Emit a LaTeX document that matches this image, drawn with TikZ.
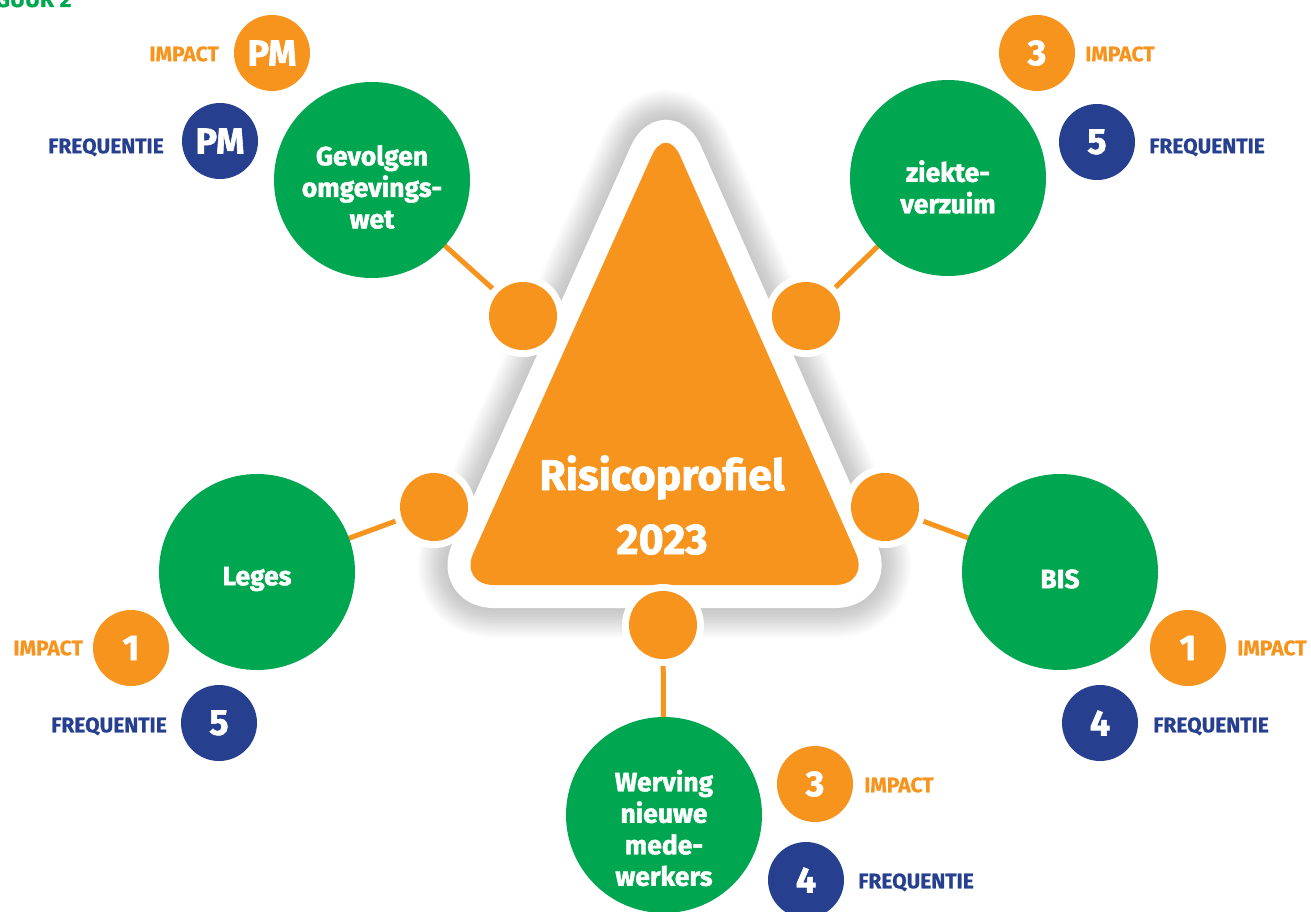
\documentclass[tikz,border=0pt]{standalone}
\usepackage{fontspec}
\setmainfont{Fira Sans}
\newfontfamily\heavyfont[BoldFeatures={FakeBold=1.6}]{Fira Sans}
\newfontfamily\labelfont[BoldFeatures={FakeBold=0.6}]{Fira Sans}
\definecolor{rorange}{HTML}{F7941E}
\definecolor{rgreen}{HTML}{00A650}
\definecolor{rblue}{HTML}{263F8F}
\pgfdeclarelayer{shadowlayer}
\pgfdeclarelayer{bglayer}
\pgfsetlayers{shadowlayer,bglayer,main}
\begin{document}
\begin{tikzpicture}[x=1pt,y=-1pt,
  topic/.style={circle, fill=rgreen, minimum size=196pt, inner sep=0pt},
  topictext/.style={text=white, font=\heavyfont\bfseries\fontsize{26.5}{31.5}\selectfont, align=center, inner sep=0pt},
  hub/.style={circle, fill=rorange, minimum size=68pt, inner sep=0pt, preaction={draw=white, line width=14pt}},
  badge/.style={circle, minimum size=76pt, inner sep=0pt, text=white, font=\heavyfont\bfseries\fontsize{36}{40}\selectfont},
  impb/.style={badge, fill=rorange},
  freqb/.style={badge, fill=rblue},
  lbl/.style={inner sep=0pt, font=\labelfont\bfseries\fontsize{21}{24}\selectfont, text height=14.5pt, text depth=0pt},
  implbl/.style={lbl, text=rorange},
  freqlbl/.style={lbl, text=rblue},
  conn/.style={draw=rorange, line width=5pt},
  tri/.style={rounded corners=35pt}
]
\useasboundingbox (0,0) rectangle (1311,912);

% figure caption (cut off at the top edge, as in the reference)
\node[anchor=base west, text=rgreen, font=\labelfont\bfseries\fontsize{23}{26}\selectfont, inner sep=0pt] (fig) at (-5,7) {GUUR 2};

% triangle
\coordinate (tA) at (666,124);
\coordinate (tB) at (870,585);
\coordinate (tC) at (459,585);
\draw[white, line width=46pt, line join=round, tri] (tA) -- (tB) -- (tC) -- cycle;
\fill[rorange, tri] (tA) -- (tB) -- (tC) -- cycle;
\node[text=white, font=\heavyfont\bfseries\fontsize{43}{64}\selectfont, align=center, inner sep=0pt] (title) at (662,505) {Risicoprofiel\\2023};

% hubs
\node[hub] (h1) at (523,316) {};
\node[hub] (h2) at (806,316) {};
\node[hub] (h3) at (434,507) {};
\node[hub] (h4) at (885,507) {};
\node[hub] (h5) at (663,625) {};

% topics
\node[topic] (g1) at (372,180) {};
\node[topic] (g2) at (948,178) {};
\node[topic] (g3) at (257,572) {};
\node[topic] (g4) at (1060,572) {};
\node[topic] (g5) at (664,815) {};
\node[topictext] (t1) at (372,187) {Gevolgen\\omgevings-\\wet};
\node[topictext] (t2) at (948,187) {ziekte-\\verzuim};
\node[topictext] (t3) at (257,579) {Leges};
\node[topictext] (t4) at (1060,579) {BIS};
\node[topictext] (t5) at (664,828) {Werving\\nieuwe\\mede-\\werkers};

% badges and labels
\node[impb] (i1) at (272,53) {PM};
\node[freqb] (f1) at (220,141) {PM};
\node[implbl, anchor=east] (il1) at (219,54) {IMPACT};
\node[freqlbl, anchor=east] (fl1) at (164,146) {FREQUENTIE};

\node[impb] (i2) at (1037,53) {3};
\node[freqb] (f2) at (1097,142) {5};
\node[implbl, anchor=west] (il2) at (1085,54) {IMPACT};
\node[freqlbl, anchor=west] (fl2) at (1149,146) {FREQUENTIE};

\node[impb] (i3) at (131,648) {1};
\node[freqb] (f3) at (219,723) {5};
\node[implbl, anchor=east] (il3) at (83,648) {IMPACT};
\node[freqlbl, anchor=east] (fl3) at (167,725) {FREQUENTIE};

\node[impb] (i4) at (1188,648) {1};
\node[freqb] (f4) at (1100,723) {4};
\node[implbl, anchor=west] (il4) at (1237,648) {IMPACT};
\node[freqlbl, anchor=west] (fl4) at (1153,725) {FREQUENTIE};

\node[impb] (i5) at (815,784) {3};
\node[freqb] (f5) at (806,880) {4};
\node[implbl, anchor=west] (il5) at (864,785) {IMPACT};
\node[freqlbl, anchor=west] (fl5) at (858,881) {FREQUENTIE};

% connectors
\begin{pgfonlayer}{bglayer}
\draw[conn] (g1.center) -- (h1.center);
\draw[conn] (g2.center) -- (h2.center);
\draw[conn] (g3.center) -- (h3.center);
\draw[conn] (g4.center) -- (h4.center);
\draw[conn] (g5.center) -- (h5.center);
\end{pgfonlayer}

% soft shadows
\begin{pgfonlayer}{shadowlayer}
\foreach \i [evaluate=\i as \w using 46+3*\i] in {1,...,20}
  \draw[black, opacity=0.011, line width=\w pt, line join=round, tri, xshift=-3pt, yshift=-7pt]
    (tA) -- (tB) -- (tC) -- cycle;
\foreach \h in {h1,h2,h3,h4,h5}
  \foreach \i [evaluate=\i as \r using 41+1.6*\i] in {1,...,12}
    \fill[black, opacity=0.012] ([xshift=-2pt,yshift=-5pt]\h.center) circle (\r pt);
\end{pgfonlayer}
\end{tikzpicture}
\end{document}
